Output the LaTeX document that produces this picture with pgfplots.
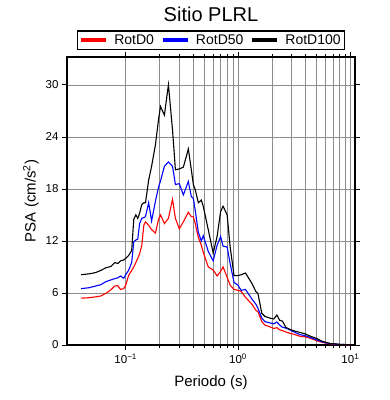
\documentclass[border=0pt]{standalone}
\usepackage{fontspec}
\setmainfont{Liberation Sans}
\usepackage{pgfplots}
\pgfplotsset{compat=1.18}
\usepackage{pgfplotstable}

\pgfplotstableread{
T R B K
0.040 5.4 6.5 8.1
0.047 5.45 6.6 8.2
0.054 5.55 6.8 8.35
0.060 5.65 6.95 8.6
0.0665 5.95 7.3 8.9
0.0736 6.35 7.5 9.05
0.080 6.8 7.65 9.5
0.085 6.85 7.75 9.4
0.090 6.4 7.95 9.7
0.096 6.5 7.7 9.8
0.100 6.9 8.1 10.0
0.106 8.0 8.6 10.3
0.113 8.6 9.5 10.9
0.118 9.0 11.9 14.5
0.123 9.5 12.1 15.0
0.128 10.0 12.2 14.6
0.133 10.5 14.0 15.2
0.139 11.5 14.6 16.2
0.145 13.8 14.7 16.4
0.150 14.2 14.8 16.4
0.160 13.8 16.4 19.0
0.170 13.3 14.3 20.6
0.184 12.9 16.6 23.1
0.196 14.5 18.2 26.0
0.204 15.0 18.9 27.5
0.221 14.0 20.6 26.5
0.240 14.6 21.1 30.0
0.261 16.8 20.6 24.8
0.277 14.6 18.5 20.2
0.300 13.4 18.6 20.3
0.326 14.2 17.3 20.5
0.361 15.3 18.85 22.6
0.384 14.8 17.1 20.2
0.400 14.8 16.9 18.5
0.416 14.0 15.5 17.9
0.443 12.4 13.0 16.4
0.471 11.5 12.0 16.7
0.490 10.7 12.6 16.0
0.543 9.0 10.8 13.3
0.601 8.65 9.7 10.6
0.651 7.96 11.5 12.5
0.700 8.5 12.5 15.4
0.736 9.0 11.4 16.0
0.800 7.8 11.3 15.0
0.850 6.9 9.4 11.35
0.922 6.4 7.2 8.0
1.000 6.3 6.9 8.0
1.064 6.2 6.3 8.1
1.165 5.5 6.4 8.3
1.330 4.7 5.3 7.1
1.443 4.0 4.7 6.15
1.503 3.85 4.25 5.95
1.629 2.7 3.1 3.65
1.733 2.3 2.7 3.3
1.919 2.1 2.55 3.1
2.085 1.9 2.45 3.0
2.215 2.0 2.65 3.45
2.350 1.75 2.3 2.85
2.490 1.65 2.05 2.75
2.660 1.5 1.95 2.05
2.890 1.35 1.75 1.8
3.210 1.2 1.45 1.6
3.560 1.0 1.2 1.45
3.920 0.95 1.08 1.3
4.340 0.8 0.9 1.05
5.000 0.5 0.6 0.75
5.650 0.3 0.35 0.42
6.510 0.14 0.17 0.2
7.990 0.05 0.07 0.08
10.00 0.02 0.03 0.03
}\spectra

\begin{document}
\begin{tikzpicture}
\useasboundingbox (-67pt,-55pt) rectangle (323pt,345pt);
\begin{axis}[
  scale only axis, width=288pt, height=288pt,
  xmode=log, xmin=0.03, xmax=11, ymin=0, ymax=33.2,
  xtick={0.1,1,10},
  xticklabels={10\textsuperscript{−1},10\textsuperscript{0},10\textsuperscript{1}},
  ytick={0,6,12,18,24,30},
  yticklabels={0,6,12,18,24,30},
  grid=both,
  major grid style={draw=black!45, line width=0.5pt},
  minor grid style={draw=black!45, line width=0.5pt},
  axis line style={line width=1.3pt},
  tick align=outside,
  major tick length=5pt, minor tick length=3pt,
  every tick/.style={black, line width=0.6pt},
  ticklabel style={font=\fontsize{11.5}{13}\selectfont},
  title={Sitio PLRL},
  title style={at={(axis description cs:0.5,1.104)}, anchor=base, font=\fontsize{20}{22}\selectfont},
  xlabel={Periodo (s)},
  xlabel style={at={(axis description cs:0.5,-0.1448)}, anchor=base, font=\fontsize{15}{17}\selectfont},
  ylabel={PSA (cm/s\textsuperscript{2})},
  ylabel style={at={(axis description cs:-0.1087,0.5)}, anchor=base, font=\fontsize{15}{17}\selectfont},
  legend columns=3,
  legend style={at={(axis description cs:0.5,1.0243)}, anchor=south, draw=black, line width=1.3pt,
    font=\fontsize{14}{15}\selectfont, inner ysep=1.5pt, inner xsep=2pt,
    /tikz/every even column/.append style={column sep=5pt}},
  legend image code/.code={\draw[#1,line width=3.5pt] (0pt,0pt) -- (25pt,0pt); \path[draw=none,fill=none] (-2pt,0pt) -- (31pt,0pt);},
]
\addplot[red, line width=1.1pt] table[x=T, y=R] {\spectra};
\addplot[blue, line width=1.1pt] table[x=T, y=B] {\spectra};
\addplot[black, line width=1.1pt] table[x=T, y=K] {\spectra};
\legend{RotD0,RotD50,RotD100}
\end{axis}
\end{tikzpicture}
\end{document}
